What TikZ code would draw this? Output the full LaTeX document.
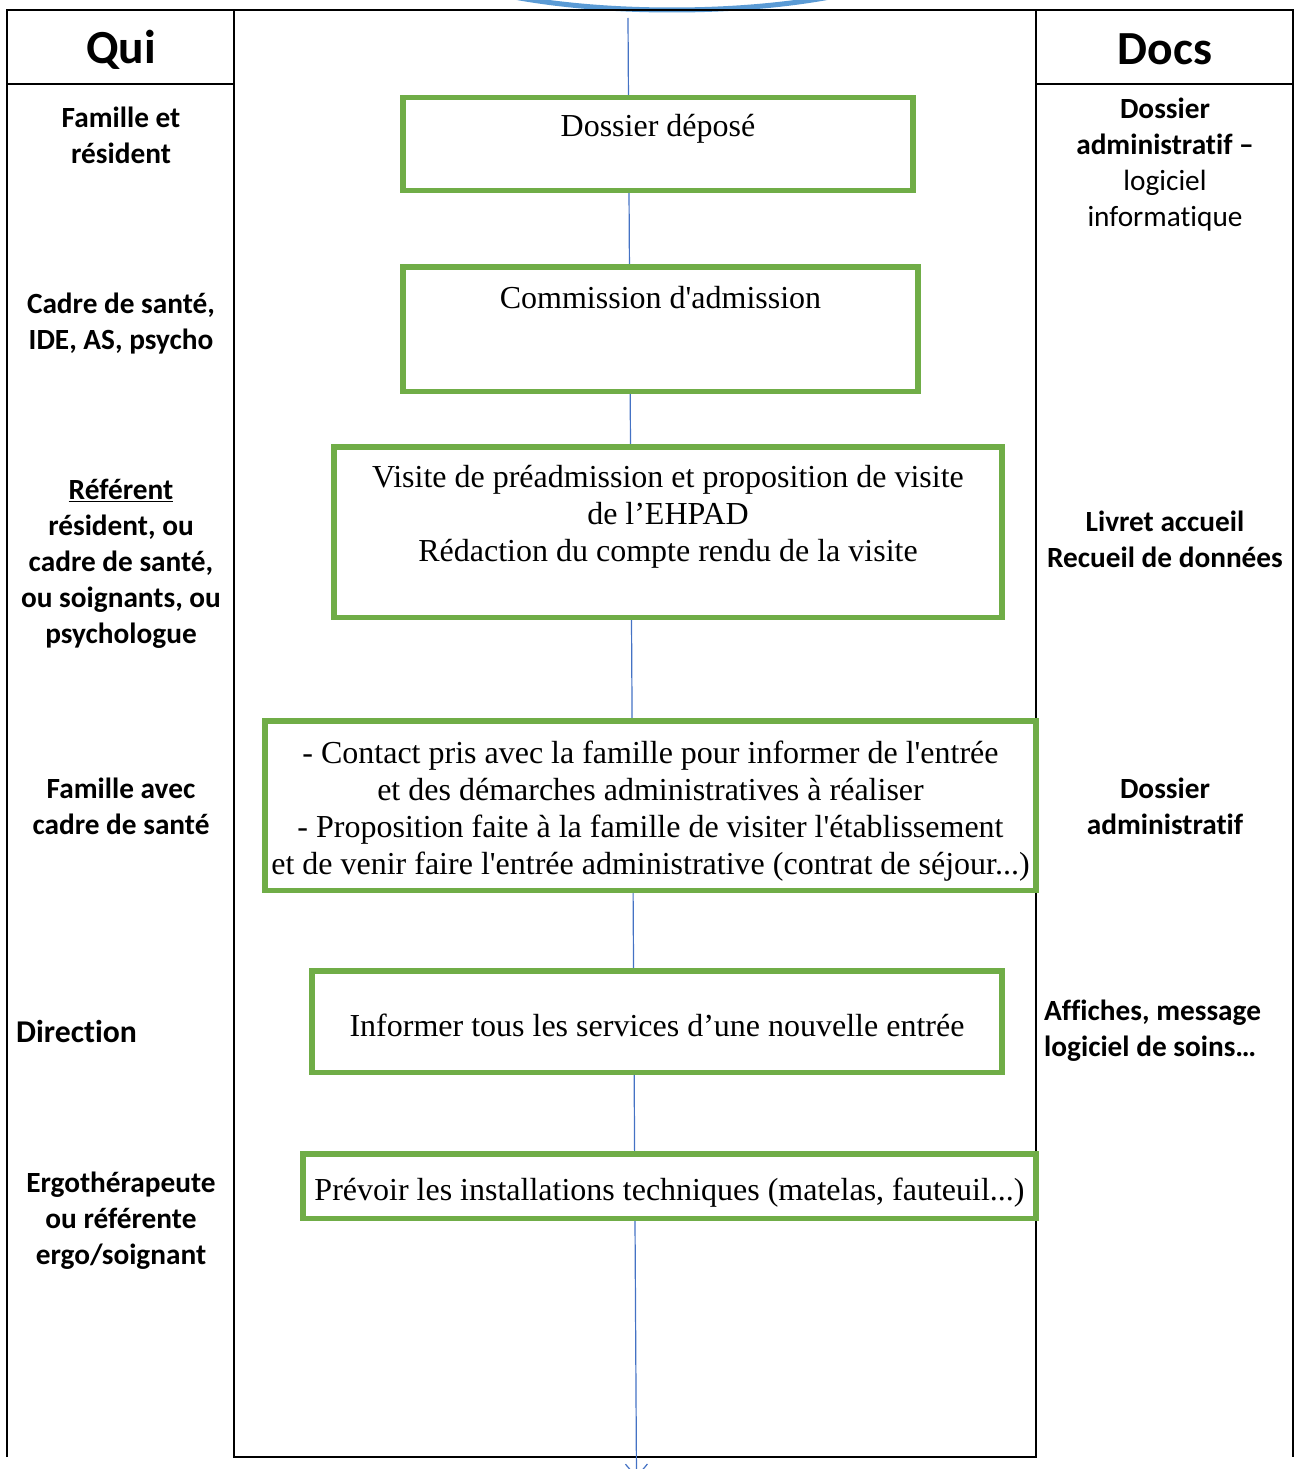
\documentclass[tikz,border=0pt]{standalone}
\usepackage{fontspec}
\setmainfont{Liberation Serif}[Ligatures=TeXOff]
\newfontfamily\calibri{Carlito}[Ligatures=CommonOff]
\usepackage{tikz}
\usetikzlibrary{calc}
\usetikzlibrary{arrows.meta}
\usetikzlibrary{positioning}
\definecolor{leafgreen}{RGB}{112, 173, 71}
\definecolor{flowblue}{RGB}{68, 114, 196}
\definecolor{skyblue}{RGB}{91, 155, 213}
\tikzset{
    stepbox/.style={draw=leafgreen, line width=5.5pt, fill=white, align=center,
        font=\fontsize{32}{37}\selectfont, inner sep=0pt},
    who/.style={align=center, font=\calibri\bfseries\fontsize{29.3}{36}\selectfont, inner sep=0pt},
    docs/.style={align=center, font=\calibri\fontsize{29.3}{36}\selectfont, inner sep=0pt},
    docsbold/.style={docs, font=\calibri\bfseries\fontsize{29.3}{36}\selectfont},
    head/.style={font=\calibri\bfseries\fontsize{47.5}{52}\selectfont, inner sep=0pt},
    grid/.style={line width=1.3pt},
    flow/.style={flowblue, line width=1.2pt},
}

\begin{document}
\begin{tikzpicture}[x=1pt, y=-1pt]
            \useasboundingbox (0,0) rectangle (1294,1469);
            % start shape, cut by the page edge
            \draw[skyblue, line width=5pt] (672,-60) ellipse (272pt and 70pt);
            % table frame
            \draw[grid] (7,1457) -- (7,10) -- (1293,10) -- (1293,1457);
            \draw[grid] (234,10) -- (234,1457) -- (1036,1457) -- (1036,10);
            \draw[grid] (7,84) -- (234,84);
            \draw[grid] (1036,84) -- (1293,84);
            \node[head] (qui) at (121,49.5) {Qui};
            \node[head] (docs) at (1165,49.5) {Docs};
            % flow line behind the steps
            \coordinate (flowtop) at (628,18);
            \coordinate (flowend) at (636.5,1478);
            \draw[flow, -{Straight Barb[length=13pt, width=22pt]}] (flowtop) -- (flowend);
            % steps
            \node[stepbox, minimum width=510pt, minimum height=92.5pt] (deposit) at (658,144)
                 {Dossier déposé\\~};
            \node[stepbox, minimum width=515pt, minimum height=124.5pt] (commission) at (660.5,329)
                 {Commission d'admission\\[27pt]~};
            \node[stepbox, minimum width=668pt, minimum height=170.5pt] (visit) at (668,532)
                 {Visite de préadmission et proposition de visite\\de l’EHPAD\\Rédaction du compte rendu de la visite\\~};
            \node[stepbox, minimum width=771pt, minimum height=169.5pt] (contact) at (650.5,805.5)
                 {\rule{0pt}{34pt}- Contact pris avec la famille pour informer de l'entrée\\et des démarches administratives à réaliser\\- Proposition faite à la famille de visiter l'établissement\\et de venir faire l'entrée administrative (contrat de séjour...)};
            \node[stepbox, minimum width=690pt, minimum height=101.5pt] (inform) at (657,1021.5)
                 {\rule{0pt}{30pt}Informer tous les services d’une nouvelle entrée};
            \node[stepbox, minimum width=733pt, minimum height=64.5pt] (install) at (669.5,1186)
                 {\rule{0pt}{36pt}Prévoir les installations techniques (matelas, fauteuil...)};
            % who
            \node[who] (whodeposit) at (121,135) {Famille et\\résident};
            \node[who] (whocommission) at (121,324) {Cadre de santé,\\IDE, AS, psycho};
            \node[who] (whovisit) at (121,563.5) {\underline{Référent}\\résident, ou\\cadre de santé,\\ou soignants, ou\\psychologue};
            \node[who] (whocontact) at (121,806) {Famille avec\\cadre de santé};
            \node[who, anchor=west, font=\calibri\bfseries\fontsize{31.7}{36}\selectfont] (whoinform) at (16,1031) {Direction};
            \node[who] (whoinstall) at (121,1221) {Ergothérapeute\\ou référente\\ergo/soignant};
            % docs
            \node[docs] (docdeposit) at (1165,164.5) {\textbf{Dossier}\\\textbf{administratif –}\\logiciel\\informatique};
            \node[docsbold] (docvisit) at (1165,539) {Livret accueil\\Recueil de données};
            \node[docsbold] (doccontact) at (1165,806) {Dossier\\administratif};
            \node[docsbold, align=left, anchor=west] (docinform) at (1044,1031) {Affiches, message\\logiciel de soins…};
        \end{tikzpicture}
\end{document}
